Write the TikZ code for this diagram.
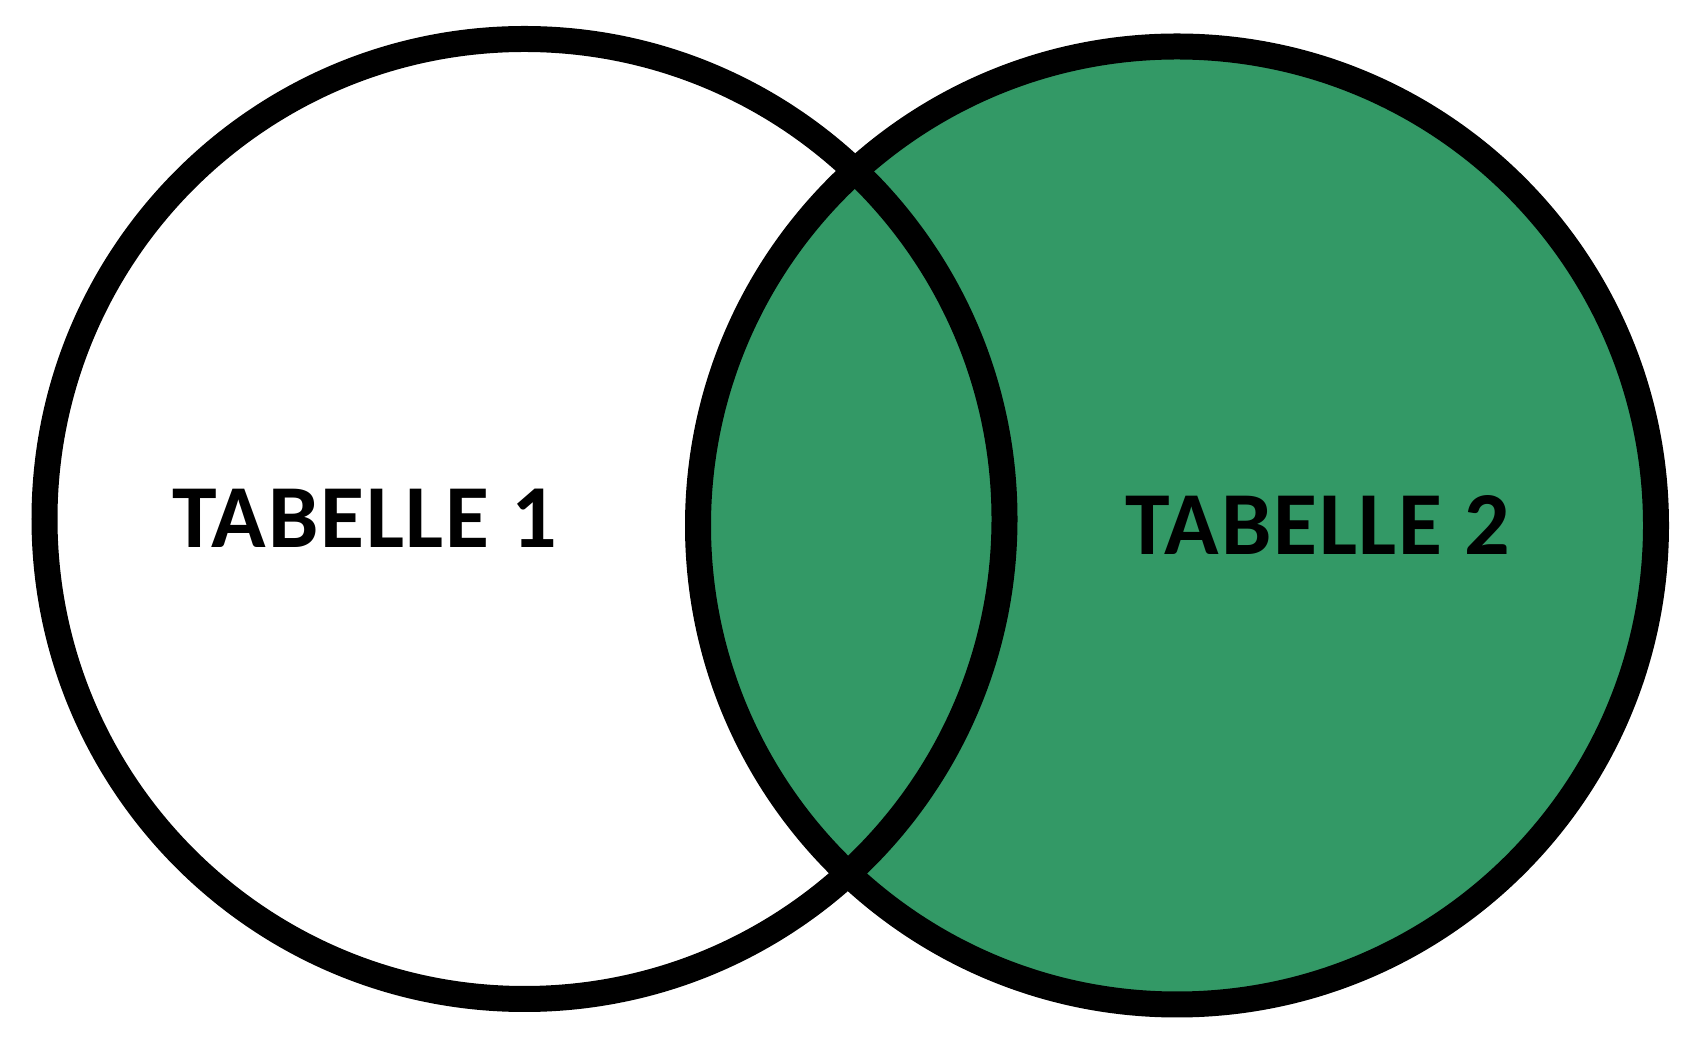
\documentclass[tikz,border=0pt]{standalone}
\usepackage{fontspec}
\setmainfont{Carlito}[LetterSpace=2.0]
\usepackage{tikz}
\definecolor{setgreen}{RGB}{51,153,102}
\def\rA{4.80}
\def\rB{4.79}
\tikzstyle{ring} = [draw=black, line width=0.26cm]
\tikzstyle{tabname} = [anchor=base, inner sep=0pt, text=black, font=\bfseries\fontsize{25.6}{30}\selectfont]

\begin{document}
\begin{tikzpicture}
  \useasboundingbox[fill=white] (0,0) rectangle (16.94,10.42);

  \coordinate (c1) at (5.245,5.23);
  \coordinate (c2) at (11.77,5.165);

  % fills first, outlines on top
  \fill[white] (c1) circle[radius=\rA];
  \fill[setgreen] (c2) circle[radius=\rB];
  \draw[ring] (c1) circle[radius=\rA];
  \draw[ring] (c2) circle[radius=\rB];

  \node[tabname] (tab1) at (3.65,4.94) {TABELLE 1};
  \node[tabname] (tab2) at (13.18,4.87) {TABELLE 2};
\end{tikzpicture}
\end{document}
